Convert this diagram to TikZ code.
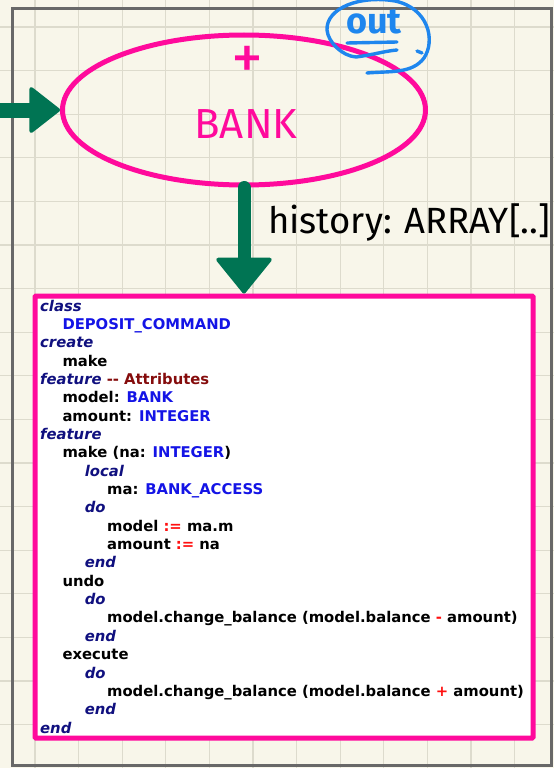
\documentclass[tikz,border=0pt]{standalone}
\usepackage{fontspec}
\setmainfont{Fira Sans}
\newfontfamily\codefont{DejaVu Sans}
\usetikzlibrary{arrows.meta,shapes.geometric,positioning}

\definecolor{paper}{HTML}{F8F6EA}
\definecolor{gridgray}{HTML}{DDDBCD}
\definecolor{framegray}{HTML}{686868}
\definecolor{hotpink}{HTML}{FF0A9C}
\definecolor{arrowgreen}{HTML}{007453}
\definecolor{penblue}{HTML}{1E86EE}
\definecolor{kwnavy}{HTML}{10107F}
\definecolor{clsblue}{HTML}{1414E6}
\definecolor{oprred}{HTML}{FF1010}
\definecolor{cmtred}{HTML}{850C0C}

% colouring of the code
\newcommand\kw[1]{{\color{kwnavy}\itshape #1}}
\newcommand\cls[1]{{\color{clsblue}#1}}
\newcommand\opr[1]{{\color{oprred}#1}}
\newcommand\cmt[1]{{\color{cmtred}#1}}

\begin{document}
\begin{tikzpicture}[x=1pt,y=-1pt]
  \tikzset{ gridline/.style={gridgray,line width=1.2pt},
    sidearrow/.style={arrowgreen,line width=15pt,line cap=round,
      -{Triangle[length=32pt,width=49pt,line width=4pt,round]}},
    downarrow/.style={arrowgreen,line width=13pt,line cap=round,
      -{Triangle[length=37pt,width=59pt,line width=4pt,round]}},
    classbox/.style={ellipse,draw=hotpink,line width=5pt,minimum width=363pt,minimum height=150pt,inner sep=0pt},
    codebox/.style={rectangle,draw=hotpink,fill=white,line width=5pt,rounded corners=1pt,
      minimum width=498pt,minimum height=442pt,inner sep=0pt},
    codeline/.style={anchor=base west,inner sep=0pt,font=\codefont\bfseries\fontsize{14.8}{18}\selectfont},
    hand/.style={inner sep=0pt},
    pen/.style={penblue,line width=3.4pt,line cap=round,line join=round},
  }
  \useasboundingbox (0,0) rectangle (554,768);
  \clip (0,0) rectangle (554,768);
  \fill[paper] (0,0) rectangle (554,768);
  \foreach \gx in {-1,...,12} \draw[gridline] ({35+43.6*\gx},0) -- ++(0,768);
  \foreach \gy in {-1,...,17} \draw[gridline] (0,{27+43.6*\gy}) -- ++(554,0);
  \draw[framegray,line width=3pt] (12.5,9) rectangle (551,765);

  % the class and its client
  \node[classbox] (bank) at (244,110) {};
  \node[hand,hotpink,font=\fontsize{64}{64}\selectfont] (plus) at (247,63) {+};
  \node[hand,hotpink,font=\fontsize{42}{42}\selectfont,anchor=base] (bankname) at (246,138) {BANK};
  \node[codebox] (cmd) at (284,517) {};

  \coordinate (client) at (0,110);
  \draw[sidearrow] (client) -- (bank.west);
  \draw[downarrow] (bank.south) -- (bank.south |- cmd.north);
  \node[hand,anchor=base west,font=\fontsize{36.5}{36}\selectfont] (hist) at (268,233) {history: ARRAY[..]};

  % the handwritten mark
  \node[hand,penblue,font=\bfseries\fontsize{36}{36}\selectfont] (outmark) at (374,22) {out};
  \draw[pen] (367,73) .. controls (390,71) and (412,74) .. (424,58)
    .. controls (436,40) and (428,8) .. (395,1)
    .. controls (360,-5) and (326,8) .. (327,30)
    .. controls (328,42) and (342,56) .. (356,57)
    .. controls (372,55) and (385,51) .. (397,50);
  \draw[pen] (347,43) -- (397,42);
  \draw[pen] (417,51) -- (422,53);

  % the code of the command
  \foreach \lvl/\txt [count=\n from 0] in {
    0/\kw{class},
    1/\cls{DEPOSIT\_COMMAND},
    0/\kw{create},
    1/make,
    0/\kw{feature} \cmt{-{}- Attributes},
    1/model: \cls{BANK},
    1/amount: \cls{INTEGER},
    0/\kw{feature},
    1/make (na: \cls{INTEGER}),
    2/\kw{local},
    3/ma: \cls{BANK\_ACCESS},
    2/\kw{do},
    3/model \opr{:=} ma.m,
    3/amount \opr{:=} na,
    2/\kw{end},
    1/undo,
    2/\kw{do},
    3/model.change\_balance (model.balance \opr{-} amount),
    2/\kw{end},
    1/execute,
    2/\kw{do},
    3/model.change\_balance (model.balance \opr{+} amount),
    2/\kw{end},
    0/\kw{end}}
    \node[codeline] (line\n) at ({40+22.3*\lvl},{311+18.35*\n}) {\txt};
\end{tikzpicture}
\end{document}
